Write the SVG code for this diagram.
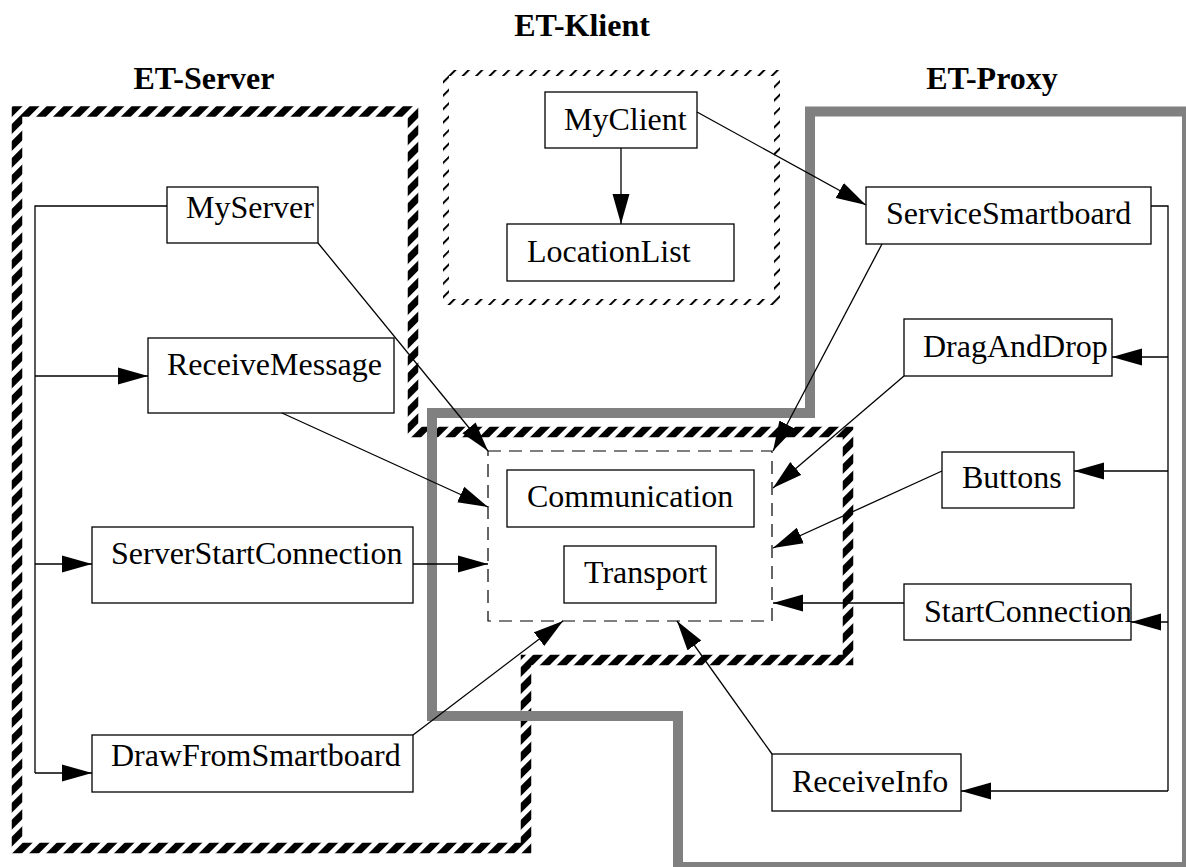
<svg xmlns="http://www.w3.org/2000/svg" width="1186" height="867" viewBox="0 0 1186 867">
  <style>
    .node rect { fill: #ffffff; stroke: #000000; stroke-width: 1.3; }
    .node text { font-family: "Liberation Serif", "Times New Roman", serif; font-size: 32px; fill: #000000; }
    .title { font-family: "Liberation Serif", "Times New Roman", serif; font-size: 32px; font-weight: bold; fill: #000000; text-anchor: middle; }
    .edge { fill: none; stroke: #000000; stroke-width: 1.3; }
    .arrow { marker-end: url(#head); }
  </style>
  <defs>
    <!-- heavy black/white diagonal stripes -->
    <pattern id="heavyHatch" patternUnits="userSpaceOnUse" width="12" height="12" patternTransform="rotate(45)">
      <rect x="0" y="0" width="7" height="12" fill="#000000"/>
    </pattern>
    <!-- fine diagonal ticks -->
    <pattern id="thinHatch" patternUnits="userSpaceOnUse" width="9.5" height="9.5" patternTransform="rotate(45)">
      <rect x="0" y="0" width="2" height="9.5" fill="#000000"/>
    </pattern>
    <marker id="head" markerUnits="userSpaceOnUse" markerWidth="30" markerHeight="18" refX="30" refY="8.5" orient="auto" viewBox="0 0 30 17">
      <path d="M0,0 L30,8.5 L0,17 Z" fill="#000000"/>
    </marker>
  </defs>

  <!-- region titles -->
  <text class="title" x="582" y="36">ET-Klient</text>
  <text class="title" x="204" y="89">ET-Server</text>
  <text class="title" x="992" y="89">ET-Proxy</text>

  <!-- region borders -->
  <g id="region-server">
    <path d="M17,111.5 H413 V432 H848 V660 H526 V848 H17 Z" fill="none" stroke="url(#heavyHatch)" stroke-width="10.5"/>
  </g>
  <g id="region-client">
    <rect x="446" y="73" width="331" height="229" fill="none" stroke="url(#thinHatch)" stroke-width="6"/>
  </g>
  <g id="region-proxy">
    <path d="M810,111.5 H1187 V867 H678 V716 H432 V413 H810 Z" fill="none" stroke="#808080" stroke-width="10"/>
  </g>
  <g id="core-group">
    <rect x="488" y="451" width="284" height="170" fill="none" stroke="#000000" stroke-width="1.2" stroke-dasharray="13,8"/>
  </g>

  <!-- nodes -->
  <g id="node-myclient" class="node">
    <rect x="545" y="92" width="152" height="56"/>
    <text x="564" y="130">MyClient</text>
  </g>
  <g id="node-locationlist" class="node">
    <rect x="507" y="224" width="227" height="57"/>
    <text x="527" y="262">LocationList</text>
  </g>
  <g id="node-servicesmartboard" class="node">
    <rect x="866" y="187" width="285" height="57"/>
    <text x="886" y="224">ServiceSmartboard</text>
  </g>
  <g id="node-draganddrop" class="node">
    <rect x="904" y="319" width="208" height="57"/>
    <text x="923" y="357">DragAndDrop</text>
  </g>
  <g id="node-buttons" class="node">
    <rect x="942" y="452" width="132" height="56"/>
    <text x="962" y="488">Buttons</text>
  </g>
  <g id="node-startconnection" class="node">
    <rect x="904" y="584" width="227" height="56"/>
    <text x="924" y="622">StartConnection</text>
  </g>
  <g id="node-receiveinfo" class="node">
    <rect x="772" y="754" width="189" height="57"/>
    <text x="792" y="792">ReceiveInfo</text>
  </g>
  <g id="node-myserver" class="node">
    <rect x="167" y="187" width="151" height="56"/>
    <text x="186" y="218">MyServer</text>
  </g>
  <g id="node-receivemessage" class="node">
    <rect x="148" y="338" width="246" height="75"/>
    <text x="167" y="375">ReceiveMessage</text>
  </g>
  <g id="node-serverstartconnection" class="node">
    <rect x="92" y="527" width="321" height="76"/>
    <text x="111" y="564">ServerStartConnection</text>
  </g>
  <g id="node-drawfromsmartboard" class="node">
    <rect x="92" y="735" width="321" height="57"/>
    <text x="111" y="766">DrawFromSmartboard</text>
  </g>
  <g id="node-communication" class="node">
    <rect x="507" y="470" width="247" height="57"/>
    <text x="527" y="507">Communication</text>
  </g>
  <g id="node-transport" class="node">
    <rect x="564" y="546" width="152" height="57"/>
    <text x="584" y="583">Transport</text>
  </g>

  <!-- connectors -->
  <g id="connectors">
    <path class="edge arrow" d="M621,148 V224"/>
    <path class="edge arrow" d="M697,112 L866,205"/>
    <path class="edge arrow" d="M318,243 L488,451"/>
    <path class="edge arrow" d="M282,413 L488,507"/>
    <path class="edge arrow" d="M413,564 H488"/>
    <path class="edge arrow" d="M413,735 L563,621"/>
    <path class="edge arrow" d="M882,244 L773,451"/>
    <path class="edge arrow" d="M904,376 L773,488"/>
    <path class="edge arrow" d="M942,471 L773,548"/>
    <path class="edge arrow" d="M904,603 H773"/>
    <path class="edge arrow" d="M772,754 L677,621"/>
    <!-- server-side fan-out -->
    <path class="edge" d="M167,206 H35 V773"/>
    <path class="edge arrow" d="M35,376 H148"/>
    <path class="edge arrow" d="M35,564 H92"/>
    <path class="edge arrow" d="M35,773 H92"/>
    <!-- proxy-side fan-out -->
    <path class="edge" d="M1151,206 H1168 V791"/>
    <path class="edge arrow" d="M1168,357 H1112"/>
    <path class="edge arrow" d="M1168,471 H1074"/>
    <path class="edge arrow" d="M1168,622 H1131"/>
    <path class="edge arrow" d="M1168,791 H961"/>
  </g>
</svg>
